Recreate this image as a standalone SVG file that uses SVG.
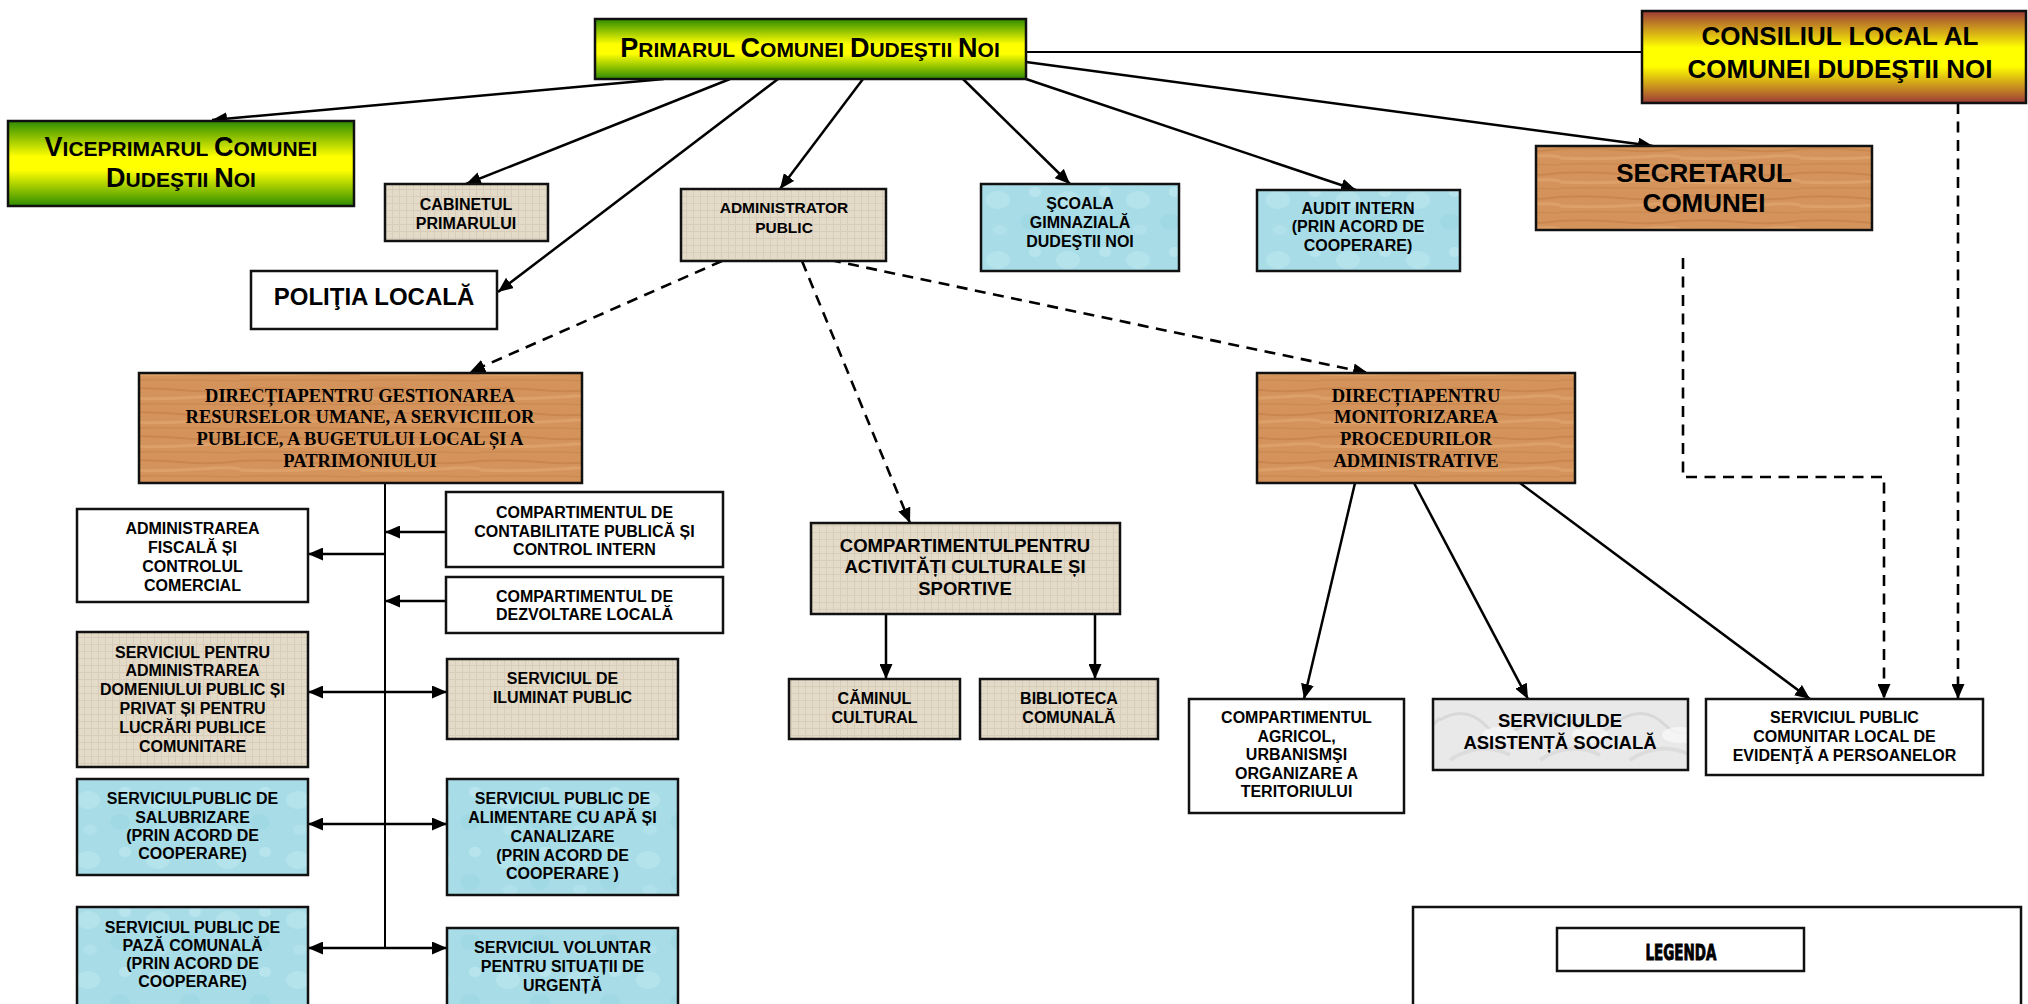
<svg xmlns="http://www.w3.org/2000/svg" width="2028" height="1004" viewBox="0 0 2028 1004">
<defs>
<style>
.t{font-family:"Liberation Sans",Arial,sans-serif;font-weight:bold;fill:#000;text-anchor:middle;font-size:16px}
.sf{font-family:"Liberation Serif","Times New Roman",serif;font-weight:bold;fill:#000;text-anchor:middle;font-size:18.5px}
.bx{stroke:#111;stroke-width:2.5}
.c{stroke:#000;stroke-width:2.5;fill:none}
.d{stroke:#000;stroke-width:2.6;fill:none;stroke-dasharray:11 7.5}
.ar{marker-end:url(#ah)}
.dbl{marker-end:url(#ah);marker-start:url(#ahs)}
</style>
<marker id="ah" viewBox="0 0 15 13" refX="15" refY="6.5" markerWidth="15" markerHeight="13" markerUnits="userSpaceOnUse" orient="auto"><path d="M0 0L15 6.5L0 13Z" fill="#000"/></marker>
<marker id="ahs" viewBox="0 0 15 13" refX="15" refY="6.5" markerWidth="15" markerHeight="13" markerUnits="userSpaceOnUse" orient="auto-start-reverse"><path d="M0 0L15 6.5L0 13Z" fill="#000"/></marker>
<linearGradient id="gy" x1="0" y1="0" x2="0" y2="1"><stop offset="0" stop-color="#2e8c00"/><stop offset="0.42" stop-color="#ffff00"/><stop offset="0.58" stop-color="#ffff00"/><stop offset="1" stop-color="#2e8c00"/></linearGradient>
<linearGradient id="ry" x1="0" y1="0" x2="0" y2="1"><stop offset="0" stop-color="#9c3a38"/><stop offset="0.4" stop-color="#ffff00"/><stop offset="0.6" stop-color="#ffff00"/><stop offset="1" stop-color="#9c3a38"/></linearGradient>
<pattern id="burlap" patternUnits="userSpaceOnUse" width="7" height="7"><rect width="7" height="7" fill="#e3dac8"/><path d="M0 0.5H7M0.5 0V7" stroke="#cfc5b0" stroke-width="1" opacity="0.6"/></pattern>
<pattern id="wood" patternUnits="userSpaceOnUse" width="120" height="24"><rect width="120" height="24" fill="#d4935a"/><path d="M0 5Q30 3 60 6T120 5" stroke="#bd7842" stroke-width="2" fill="none" opacity="0.45"/><path d="M0 14Q40 16 80 13T120 14" stroke="#e4aa72" stroke-width="3" fill="none" opacity="0.55"/><path d="M0 20Q50 19 120 21" stroke="#c27e47" stroke-width="1.5" fill="none" opacity="0.45"/></pattern>
<pattern id="water" patternUnits="userSpaceOnUse" width="70" height="60"><rect width="70" height="60" fill="#a8dde8"/><ellipse cx="18" cy="20" rx="12" ry="9" fill="#c4ebf2" opacity="0.45"/><ellipse cx="50" cy="42" rx="10" ry="8" fill="#93d2df" opacity="0.4"/><ellipse cx="55" cy="12" rx="6" ry="5" fill="#cdeff5" opacity="0.45"/><ellipse cx="20" cy="50" rx="7" ry="5" fill="#bfe7ef" opacity="0.4"/></pattern>
<pattern id="marble" patternUnits="userSpaceOnUse" width="90" height="70"><rect width="90" height="70" fill="#e9e9e9"/><path d="M0 20Q25 5 45 25T90 18" stroke="#cdcdcd" stroke-width="3" fill="none" opacity="0.6"/><path d="M10 60Q40 40 70 55" stroke="#d4d4d4" stroke-width="4" fill="none" opacity="0.6"/><ellipse cx="60" cy="35" rx="18" ry="8" fill="#f7f7f7" opacity="0.8"/></pattern>
</defs>
<rect width="2028" height="1004" fill="#fff"/>

<g id="connectors">
<line class="c" x1="1026" y1="52" x2="1642" y2="52" style="stroke-width:1.8"/>
<line class="c ar" x1="664" y1="79" x2="212" y2="120"/>
<line class="c ar" x1="730" y1="79" x2="466" y2="184"/>
<line class="c ar" x1="778" y1="79" x2="498" y2="292"/>
<line class="c ar" x1="863" y1="79" x2="780" y2="189"/>
<line class="c ar" x1="963" y1="79" x2="1070" y2="184"/>
<line class="c ar" x1="1026" y1="79" x2="1356" y2="190"/>
<line class="c ar" x1="1026" y1="62" x2="1653" y2="146"/>
<line class="d ar" x1="722" y1="261" x2="470" y2="372"/>
<line class="d ar" x1="802" y1="261" x2="910" y2="523"/>
<line class="d ar" x1="830" y1="260" x2="1368" y2="373"/>
<path class="d ar" d="M1683 258V477H1884V699"/>
<path class="d ar" d="M1958 103V699"/>
<line class="c ar" x1="886" y1="614" x2="886" y2="679"/>
<line class="c ar" x1="1095" y1="614" x2="1095" y2="679"/>
<line class="c ar" x1="1355" y1="483" x2="1304" y2="699"/>
<line class="c ar" x1="1414" y1="483" x2="1528" y2="699"/>
<line class="c ar" x1="1520" y1="483" x2="1810" y2="699"/>
<line class="c" x1="385" y1="483" x2="385" y2="949" style="stroke-width:2"/>
<line class="c ar" x1="446" y1="532" x2="385" y2="532"/>
<line class="c ar" x1="446" y1="601" x2="385" y2="601"/>
<line class="c ar" x1="385" y1="554" x2="308" y2="554"/>
<line class="c dbl" x1="308" y1="692" x2="447" y2="692"/>
<line class="c dbl" x1="308" y1="824" x2="447" y2="824"/>
<line class="c dbl" x1="308" y1="948" x2="447" y2="948"/>
</g>

<g id="primarul"><rect class="bx" x="595" y="19" width="431" height="60" fill="url(#gy)"/>
<text class="t" x="810" y="57" style="font-size:21px"><tspan style="font-size:27px">P</tspan>RIMARUL <tspan style="font-size:27px">C</tspan>OMUNEI <tspan style="font-size:27px">D</tspan>UDEŞTII <tspan style="font-size:27px">N</tspan>OI</text></g>

<g id="viceprimarul"><rect class="bx" x="8" y="121" width="346" height="85" fill="url(#gy)"/>
<text class="t" x="181" y="156" style="font-size:21px"><tspan style="font-size:27px">V</tspan>ICEPRIMARUL <tspan style="font-size:27px">C</tspan>OMUNEI</text>
<text class="t" x="181" y="187" style="font-size:21px"><tspan style="font-size:27px">D</tspan>UDEŞTII <tspan style="font-size:27px">N</tspan>OI</text></g>

<g id="consiliul"><rect class="bx" x="1642" y="11" width="384" height="92" fill="url(#ry)"/>
<text class="t" x="1840" y="45" style="font-size:26px">CONSILIUL LOCAL AL</text>
<text class="t" x="1840" y="78" style="font-size:26px">COMUNEI DUDEŞTII NOI</text></g>

<g id="secretarul"><rect class="bx" x="1536" y="146" width="336" height="84" fill="url(#wood)"/>
<text class="t" x="1704" y="182" style="font-size:26px">SECRETARUL</text>
<text class="t" x="1704" y="212" style="font-size:26px">COMUNEI</text></g>

<g id="cabinetul"><rect class="bx" x="385" y="184" width="163" height="57" fill="url(#burlap)"/>
<text class="t" x="466" y="210">CABINETUL</text><text class="t" x="466" y="229">PRIMARULUI</text></g>

<g id="politia"><rect class="bx" x="251" y="271" width="246" height="58" fill="#fff"/>
<text class="t" x="374" y="305" style="font-size:24px">POLIŢIA LOCALĂ</text></g>

<g id="administrator"><rect class="bx" x="681" y="189" width="205" height="72" fill="url(#burlap)"/>
<text class="t" x="784" y="213" style="font-size:15.5px">ADMINISTRATOR</text><text class="t" x="784" y="233" style="font-size:15.5px">PUBLIC</text></g>

<g id="scoala"><rect class="bx" x="981" y="184" width="198" height="87" fill="url(#water)"/>
<text class="t" x="1080" y="209">ŞCOALA</text><text class="t" x="1080" y="228">GIMNAZIALĂ</text><text class="t" x="1080" y="247">DUDEŞTII NOI</text></g>

<g id="audit"><rect class="bx" x="1257" y="190" width="203" height="81" fill="url(#water)"/>
<text class="t" x="1358" y="214">AUDIT INTERN</text><text class="t" x="1358" y="232">(PRIN ACORD DE</text><text class="t" x="1358" y="251">COOPERARE)</text></g>

<g id="directia-resurse"><rect class="bx" x="139" y="373" width="443" height="110" fill="url(#wood)"/>
<text class="sf" x="360" y="402">DIRECȚIAPENTRU GESTIONAREA</text>
<text class="sf" x="360" y="423">RESURSELOR UMANE, A SERVICIILOR</text>
<text class="sf" x="360" y="445">PUBLICE, A BUGETULUI LOCAL ȘI A</text>
<text class="sf" x="360" y="467">PATRIMONIULUI</text></g>

<g id="directia-monitorizare"><rect class="bx" x="1257" y="373" width="318" height="110" fill="url(#wood)"/>
<text class="sf" x="1416" y="402">DIRECȚIAPENTRU</text>
<text class="sf" x="1416" y="423">MONITORIZAREA</text>
<text class="sf" x="1416" y="445">PROCEDURILOR</text>
<text class="sf" x="1416" y="467">ADMINISTRATIVE</text></g>

<g id="administrarea-fiscala"><rect class="bx" x="77" y="509" width="231" height="93" fill="#fff"/>
<text class="t" x="192.5" y="534">ADMINISTRAREA</text><text class="t" x="192.5" y="553">FISCALĂ ȘI</text><text class="t" x="192.5" y="572">CONTROLUL</text><text class="t" x="192.5" y="591">COMERCIAL</text></g>

<g id="contabilitate"><rect class="bx" x="446" y="492" width="277" height="75" fill="#fff"/>
<text class="t" x="584.5" y="518">COMPARTIMENTUL DE</text><text class="t" x="584.5" y="537">CONTABILITATE PUBLICĂ ȘI</text><text class="t" x="584.5" y="555">CONTROL INTERN</text></g>

<g id="dezvoltare"><rect class="bx" x="446" y="577" width="277" height="56" fill="#fff"/>
<text class="t" x="584.5" y="602">COMPARTIMENTUL DE</text><text class="t" x="584.5" y="620">DEZVOLTARE LOCALĂ</text></g>

<g id="domeniu-public"><rect class="bx" x="77" y="632" width="231" height="135" fill="url(#burlap)"/>
<text class="t" x="192.5" y="658">SERVICIUL PENTRU</text><text class="t" x="192.5" y="676">ADMINISTRAREA</text><text class="t" x="192.5" y="695">DOMENIULUI PUBLIC ȘI</text><text class="t" x="192.5" y="714">PRIVAT ȘI PENTRU</text><text class="t" x="192.5" y="733">LUCRĂRI PUBLICE</text><text class="t" x="192.5" y="752">COMUNITARE</text></g>

<g id="iluminat"><rect class="bx" x="447" y="659" width="231" height="80" fill="url(#burlap)"/>
<text class="t" x="562.5" y="684">SERVICIUL DE</text><text class="t" x="562.5" y="703">ILUMINAT PUBLIC</text></g>

<g id="salubrizare"><rect class="bx" x="77" y="779" width="231" height="96" fill="url(#water)"/>
<text class="t" x="192.5" y="804">SERVICIULPUBLIC DE</text><text class="t" x="192.5" y="823">SALUBRIZARE</text><text class="t" x="192.5" y="841">(PRIN ACORD DE</text><text class="t" x="192.5" y="859">COOPERARE)</text></g>

<g id="alimentare"><rect class="bx" x="447" y="779" width="231" height="116" fill="url(#water)"/>
<text class="t" x="562.5" y="804">SERVICIUL PUBLIC DE</text><text class="t" x="562.5" y="823">ALIMENTARE CU APĂ ȘI</text><text class="t" x="562.5" y="842">CANALIZARE</text><text class="t" x="562.5" y="861">(PRIN ACORD DE</text><text class="t" x="562.5" y="879">COOPERARE )</text></g>

<g id="paza"><rect class="bx" x="77" y="907" width="231" height="110" fill="url(#water)"/>
<text class="t" x="192.5" y="933">SERVICIUL PUBLIC DE</text><text class="t" x="192.5" y="951">PAZĂ COMUNALĂ</text><text class="t" x="192.5" y="969">(PRIN ACORD DE</text><text class="t" x="192.5" y="987">COOPERARE)</text></g>

<g id="voluntar"><rect class="bx" x="447" y="928" width="231" height="90" fill="url(#water)"/>
<text class="t" x="562.5" y="953">SERVICIUL VOLUNTAR</text><text class="t" x="562.5" y="972">PENTRU SITUAȚII DE</text><text class="t" x="562.5" y="991">URGENȚĂ</text></g>

<g id="cultural"><rect class="bx" x="811" y="523" width="309" height="91" fill="url(#burlap)"/>
<text class="t" x="965" y="552" style="font-size:18.5px">COMPARTIMENTULPENTRU</text><text class="t" x="965" y="573" style="font-size:18.5px">ACTIVITĂȚI CULTURALE ȘI</text><text class="t" x="965" y="595" style="font-size:18.5px">SPORTIVE</text></g>

<g id="caminul"><rect class="bx" x="789" y="679" width="171" height="60" fill="url(#burlap)"/>
<text class="t" x="874.5" y="704">CĂMINUL</text><text class="t" x="874.5" y="723">CULTURAL</text></g>

<g id="biblioteca"><rect class="bx" x="980" y="679" width="178" height="60" fill="url(#burlap)"/>
<text class="t" x="1069" y="704">BIBLIOTECA</text><text class="t" x="1069" y="723">COMUNALĂ</text></g>

<g id="agricol"><rect class="bx" x="1189" y="699" width="215" height="114" fill="#fff"/>
<text class="t" x="1296.5" y="723">COMPARTIMENTUL</text><text class="t" x="1296.5" y="742">AGRICOL,</text><text class="t" x="1296.5" y="760">URBANISMŞI</text><text class="t" x="1296.5" y="779">ORGANIZARE A</text><text class="t" x="1296.5" y="797">TERITORIULUI</text></g>

<g id="asistenta"><rect class="bx" x="1433" y="699" width="255" height="71" fill="url(#marble)"/>
<text class="t" x="1560" y="727" style="font-size:18.5px">SERVICIULDE</text><text class="t" x="1560" y="749" style="font-size:18.5px">ASISTENȚĂ SOCIALĂ</text></g>

<g id="evidenta"><rect class="bx" x="1706" y="699" width="277" height="76" fill="#fff"/>
<text class="t" x="1844.5" y="723">SERVICIUL PUBLIC</text><text class="t" x="1844.5" y="742">COMUNITAR LOCAL DE</text><text class="t" x="1844.5" y="761">EVIDENŢĂ A PERSOANELOR</text></g>

<g id="legenda"><rect class="bx" x="1413" y="907" width="608" height="110" fill="#fff"/>
<rect class="bx" x="1557" y="928" width="247" height="43" fill="#fff"/>
<text x="1681" y="960" text-anchor="middle" textLength="71" lengthAdjust="spacingAndGlyphs" stroke="#000" stroke-width="0.9" style="font-family:'Liberation Sans Narrow','DejaVu Sans Condensed',sans-serif;font-weight:900;font-size:22px">LEGENDA</text></g>
</svg>
